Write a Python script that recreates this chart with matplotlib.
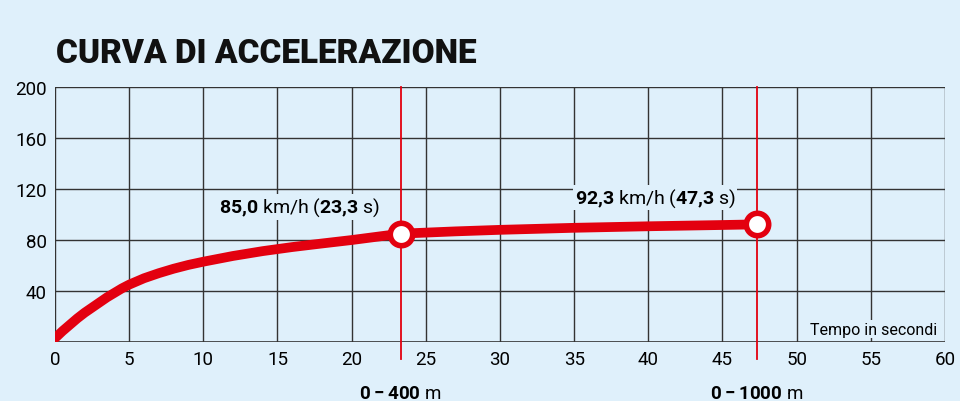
import matplotlib
matplotlib.use("Agg")
import matplotlib.pyplot as plt

# tempo (s) e velocità (km/h)
tempo = [0, 0.5, 1, 1.5, 2, 2.5, 3, 3.5, 4, 4.5, 5, 6, 7, 8, 9, 10, 12, 14, 16, 18, 20, 23.3,
         27, 30, 35, 40, 45, 47.3]
velocita = [3, 8.5, 13.5, 18.5, 23, 27, 31, 35, 38.5, 42, 45, 50, 54, 57.5, 60.5, 63, 67.5,
            71.3, 74.5, 77.3, 80, 85, 86.8, 88, 89.6, 90.8, 91.8, 92.3]
punti_t = [23.3, 47.3]
punti_v = [85.0, 92.3]
etichette_punti = ["0-400", "0-1000"]
x_ticks = list(range(0, 61, 5))
y_ticks = [40, 80, 120, 160, 200]

bg = "#dff0fb"
red = "#e3000f"
plt.rcParams["font.family"] = ["Roboto", "DejaVu Sans"]
plt.rcParams["mathtext.fontset"] = "custom"
plt.rcParams["mathtext.rm"] = "Roboto"
plt.rcParams["mathtext.bf"] = "Roboto:bold"

fig = plt.figure(figsize=(9.6, 4.02), dpi=100, facecolor=bg)
ax = fig.add_axes([0.0573, 0.1468, 0.927, 0.634])
ax.set_facecolor(bg)
ax.set_xlim(0, 60)
ax.set_ylim(0, 200)
ax.set_xticks(x_ticks)
ax.set_yticks(y_ticks)
ax.tick_params(length=0, labelsize=13.5, pad=6)
ax.grid(True, color="#333333", lw=1)
for s in ax.spines.values():
    s.set_visible(False)
ax.axhline(0, color="#333333", lw=1.2)
ax.axvline(0, color="#333333", lw=1.2)

for t, lab in zip(punti_t, etichette_punti):
    ax.plot([t, t], [-13, 200], color=red, lw=1.3, clip_on=False, zorder=3)
    ax.text(t, -0.165, r"$\mathbf{" + lab + r"}$ m", transform=ax.get_xaxis_transform(),
            ha="center", va="top", fontsize=13.5)

ax.plot(tempo, velocita, color=red, lw=7, solid_capstyle="round",
        solid_joinstyle="round", zorder=4)
ax.scatter(punti_t, punti_v, s=260, facecolor="white", edgecolor=red, lw=4, zorder=5)

for t, v in zip(punti_t, punti_v):
    txt = (f"{v:.1f}").replace(".", "{,}")
    tt = (f"{t:.1f}").replace(".", "{,}")
    ax.text(t - 1.4, v + 12, r"$\mathbf{" + txt + r"}$ km/h ($\mathbf{" + tt + r"}$ s)",
            ha="right", va="bottom", fontsize=14,
            bbox=dict(facecolor=bg, edgecolor="none", pad=1), zorder=4)

ax.text(59.5, 4, "Tempo in secondi", ha="right", va="bottom", fontsize=11.5,
        bbox=dict(facecolor=bg, edgecolor="none", pad=1))

fig.text(0.058, 0.865, "CURVA DI ACCELERAZIONE", fontsize=24, fontweight="heavy",
         ha="left", va="center", color="#111111")

fig.savefig("out.png", dpi=100, facecolor=bg)
